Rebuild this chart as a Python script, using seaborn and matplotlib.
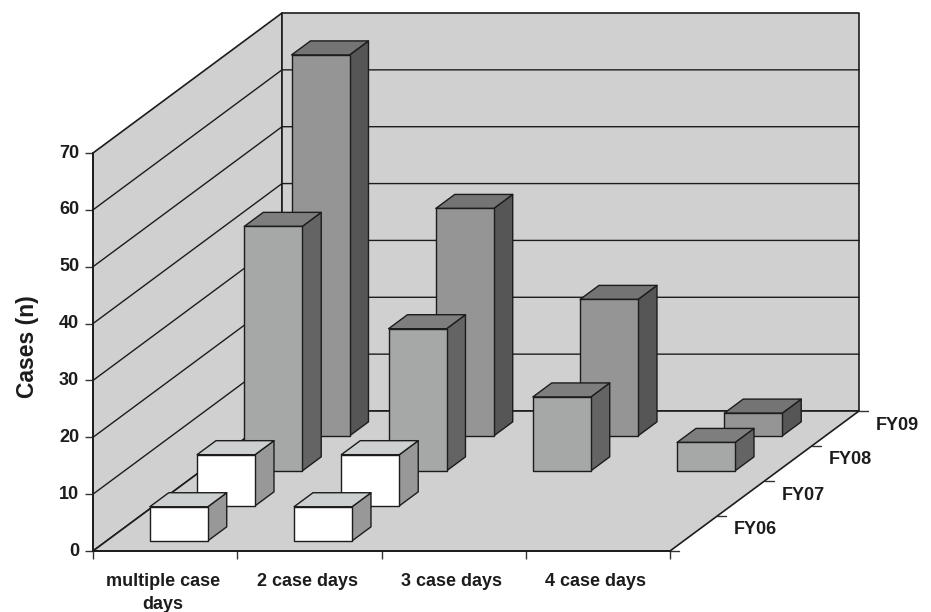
import matplotlib
matplotlib.use("Agg")
import matplotlib.pyplot as plt
import matplotlib.transforms as mtransforms
import numpy as np
import seaborn as sns

categories = ["multiple case\ndays", "2 case days", "3 case days", "4 case days"]
series_names = ["FY06", "FY07", "FY08", "FY09"]
fy06 = [6, 6, 0, 0]
fy07 = [9, 9, 0, 0]
fy08 = [43, 25, 13, 5]
fy09 = [67, 40, 24, 4]
y_ticks = [0, 10, 20, 30, 40, 50, 60, 70]

all_series = [fy06, fy07, fy08, fy09]
front_cols = ["#ffffff", "#ffffff", "#a6a8a8", "#959595"]
top_cols = ["#cdd0d0", "#cdd0d0", "#7e7e7e", "#747474"]
side_cols = ["#989898", "#989898", "#646464", "#565656"]
WALL = "#d0d0d0"
INK = "#1c1c1c"

sns.set_theme(style="white")
plt.rcParams["font.family"] = ["Liberation Sans", "DejaVu Sans"]
plt.rcParams["font.weight"] = "bold"

W, H = 931, 612
L, R, T, B = 93, 859, 13, 551
CAT_PX = 144.25
VAL_PX = 398 / 70
DX_PX, DY_PX = 47.25, 35
SX = DX_PX / CAT_PX      # categories per series of depth
SY = DY_PX / VAL_PX      # value units per series of depth
BAR_W = 0.402
D0, D1 = 0.29, 0.69      # depth extent of a bar within its series slot
FS = 13

fig = plt.figure(figsize=(W / 100, H / 100), dpi=100, facecolor="white")
ax = fig.add_axes([L / W, 1 - B / H, (R - L) / W, (B - T) / H])
ax.patch.set_alpha(0)


def proj(cat, depth, val):
    """Oblique projection of (category, depth, value) on the axes' plane."""
    return cat + depth * SX, val + depth * SY


def poly(points, color, z, lw=1.0, edge=INK):
    xs, ys = zip(*[proj(*p) for p in points])
    ax.fill(xs, ys, facecolor=color, edgecolor=edge, linewidth=lw, zorder=z,
            joinstyle="round", clip_on=False)


n_cat, n_ser = len(categories), len(series_names)
top = y_ticks[-1]
# walls and floor
poly([(0, 0, 0), (0, n_ser, 0), (0, n_ser, top), (0, 0, top)], WALL, 1, 1.2)
poly([(0, n_ser, 0), (n_cat, n_ser, 0), (n_cat, n_ser, top), (0, n_ser, top)], WALL, 1, 1.2)
poly([(0, 0, 0), (n_cat, 0, 0), (n_cat, n_ser, 0), (0, n_ser, 0)], WALL, 1.5, 1.2)
# grid lines
for v in y_ticks[1:-1]:
    xs, ys = zip(*[proj(*p) for p in [(0, 0, v), (0, n_ser, v), (n_cat, n_ser, v)]])
    ax.plot(xs, ys, color=INK, lw=1.0, zorder=1.2, clip_on=False)
# depth axis ticks and labels
tick_dx = 9 / CAT_PX
for s in range(n_ser + 1):
    x, y = proj(n_cat, s, 0)
    ax.plot([x, x + tick_dx], [y, y], color="#333333", lw=1.0, zorder=1.6, clip_on=False)
for s, name in enumerate(series_names):
    x, y = proj(n_cat, s + 0.5, 0)
    ax.text(x + 62 / CAT_PX, y + 3.5 / VAL_PX, name, ha="center", va="center",
            fontsize=FS, fontweight="bold", color=INK)

# bars, back to front
for s in reversed(range(n_ser)):
    vals = np.array(all_series[s], dtype=float)
    idx = np.nonzero(vals > 0)[0]
    z = 10 + (n_ser - s)
    base_x, base_y = proj(idx + 0.5, s + D0, 0)
    sns.barplot(x=base_x, y=vals[idx], native_scale=True, width=BAR_W, bottom=base_y,
                color=front_cols[s], saturation=1, errorbar=None, ax=ax,
                edgecolor=INK, linewidth=1.0, zorder=z + 0.2)
    for i in idx:
        c0, c1 = i + 0.5 - BAR_W / 2, i + 0.5 + BAR_W / 2
        v = vals[i]
        poly([(c1, s + D0, 0), (c1, s + D1, 0), (c1, s + D1, v), (c1, s + D0, v)], side_cols[s], z)
        poly([(c0, s + D0, v), (c1, s + D0, v), (c1, s + D1, v), (c0, s + D1, v)], top_cols[s], z)

# axes, scales, ticks
ax.set_xlim(0, (R - L) / CAT_PX)
ax.set_ylim(0, (B - T) / VAL_PX)
for side in ("top", "right"):
    ax.spines[side].set_visible(False)
for side in ("left", "bottom"):
    ax.spines[side].set_color(INK)
    ax.spines[side].set_linewidth(1.3)
    ax.spines[side].set_zorder(2)
ax.spines["left"].set_bounds(0, top)
ax.spines["bottom"].set_bounds(0, n_cat)
ax.set_yticks(y_ticks)
ax.tick_params(axis="y", which="major", left=True, length=6, width=1.0, color="#333333",
               labelsize=FS, labelcolor=INK, pad=4)
ax.set_xticks(np.arange(n_cat + 1))
ax.set_xticklabels([])
ax.tick_params(axis="x", which="major", bottom=True, length=6, width=1.0, color="#333333")
ax.set_xticks(np.arange(n_cat) + 0.5 - 2 / CAT_PX, minor=True)
ax.set_xticklabels(categories, minor=True, fontsize=FS, fontweight="bold", color=INK,
                   linespacing=1.45, ha="center")
ax.tick_params(axis="x", which="minor", bottom=False, length=0, pad=16)
shift_up = mtransforms.ScaledTranslation(0, 2 / 100, fig.dpi_scale_trans)
for lab in ax.get_yticklabels():
    lab.set_fontweight("bold")
    lab.set_transform(lab.get_transform() + shift_up)
ax.set_xlabel("")
ax.set_ylabel("Cases (n)", fontsize=16.5, fontweight="bold", color=INK)
ax.yaxis.set_label_coords((39 - L) / (R - L), (B - 347) / (B - T))

fig.savefig("out.png", dpi=100, facecolor="white")
